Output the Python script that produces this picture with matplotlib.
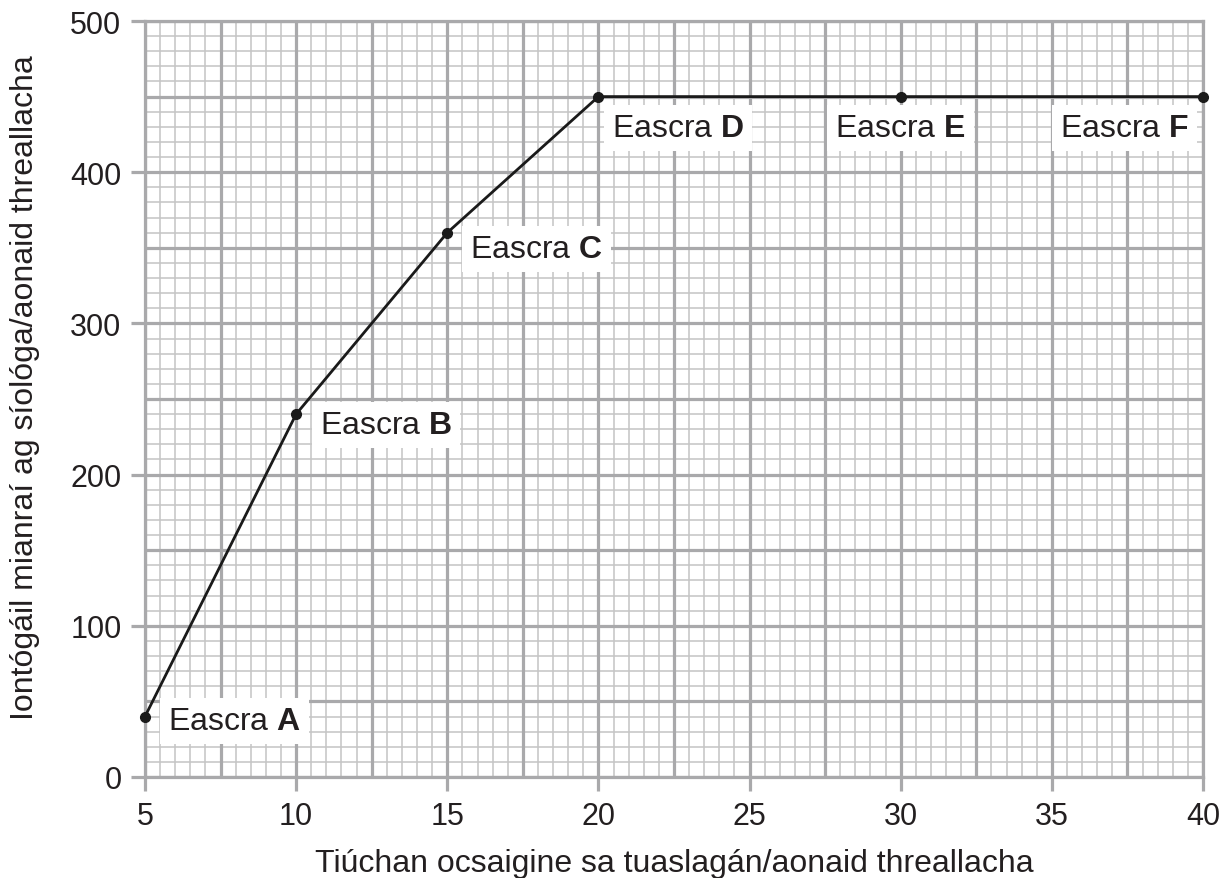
import numpy as np
import matplotlib.pyplot as plt
from matplotlib.ticker import MultipleLocator

plt.rcParams['font.family'] = ['Liberation Sans', 'DejaVu Sans']
plt.rcParams['mathtext.fontset'] = 'custom'
plt.rcParams['mathtext.rm'] = 'Liberation Sans'
plt.rcParams['mathtext.bf'] = 'Liberation Sans:bold'

oxygen = [5, 10, 15, 20, 30, 40]
uptake = [40, 240, 360, 450, 450, 450]
names = ['A', 'B', 'C', 'D', 'E', 'F']
# where each label sits (data coords, left edge / vertical centre)
label_x = [5.76, 10.79, 15.75, 20.45, 27.83, 35.27]
label_y = [37, 233, 349, 429, 429, 429]

grid_dark = '#a9a9ab'
grid_light = '#c4c4c4'
ink = '#231f20'

fig = plt.figure(figsize=(12.27, 8.79), dpi=100)
ax = fig.add_axes([145 / 1227, 1 - 778 / 879, 1058 / 1227, 756 / 879])

ax.set_xlim(5, 40)
ax.set_ylim(0, 500)

# graph-paper grid
for x in np.arange(5, 40.01, 0.5):
    if abs(x / 2.5 - round(x / 2.5)) < 1e-6:
        continue
    ax.axvline(x, color=grid_light, lw=1.1, zorder=0)
for y in np.arange(0, 500.1, 10):
    if y % 50 == 0:
        continue
    ax.axhline(y, color=grid_light, lw=1.1, zorder=0)
for x in np.arange(5, 40.01, 2.5):
    ax.axvline(x, color=grid_dark, lw=2.3, zorder=1)
for y in np.arange(0, 500.1, 50):
    ax.axhline(y, color=grid_dark, lw=2.3, zorder=1)

ax.plot(oxygen, uptake, color='#1a1a1a', lw=2.0, marker='o', ms=7, zorder=3,
        clip_on=False)

for n, lx, ly in zip(names, label_x, label_y):
    ax.text(lx, ly, 'Eascra $\\mathbf{' + n + '}$', fontsize=23, ha='left',
            va='center', color=ink, zorder=4,
            bbox=dict(boxstyle='square,pad=0.25', fc='white', ec='none'))

for s in ax.spines.values():
    s.set_color(grid_dark)
    s.set_linewidth(2.3)

ax.xaxis.set_major_locator(MultipleLocator(5))
ax.yaxis.set_major_locator(MultipleLocator(100))
ax.tick_params(axis='both', length=10, width=2.3, color=grid_dark,
               labelsize=22, labelcolor=ink, pad=7)

ax.set_xlabel('Tiúchan ocsaigine sa tuaslagán/aonaid threallacha', fontsize=23,
              color=ink, va='baseline')
ax.set_ylabel('Iontógáil mianraí ag síológa/aonaid threallacha', fontsize=23,
              color=ink, va='center', ha='center')
ax.xaxis.set_label_coords(0.5, (778 - 872) / 756)
ax.yaxis.set_label_coords((25 - 145) / 1058, (778 - 388) / 756)

fig.savefig('out.png', dpi=100)
